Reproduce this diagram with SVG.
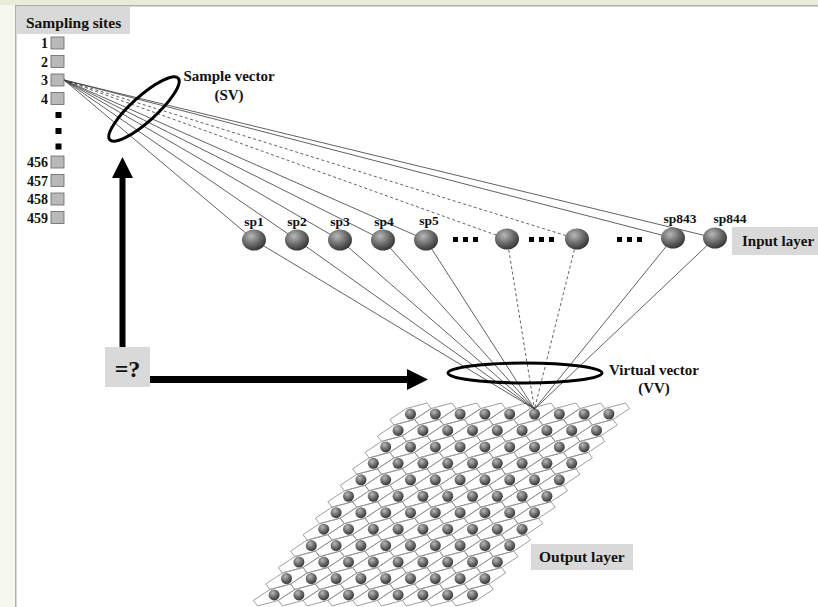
<svg xmlns="http://www.w3.org/2000/svg" xmlns:xlink="http://www.w3.org/1999/xlink" width="818" height="607" viewBox="0 0 818 607">
<style>
.lbl{font-family:"Liberation Serif","Times New Roman",serif;font-weight:bold;fill:#111}
.box{fill:#d9d9d9}
.ln{stroke:#3a3a3a;stroke-width:0.8;fill:none}
.dash{stroke-dasharray:3,2.5}
.hex{fill:none;stroke:#939393;stroke-width:0.9}
.site{fill:#b9b9b9;stroke:#666;stroke-width:0.8}
.ring{fill:none;stroke:#000;stroke-width:3}
</style>
<defs>
<radialGradient id="gball" cx="0.38" cy="0.32" r="0.7">
<stop offset="0" stop-color="#b8b8b8"/>
<stop offset="0.55" stop-color="#6c6c6c"/>
<stop offset="1" stop-color="#353535"/>
</radialGradient>
<polygon id="hex" class="hex" points="4.13,5.49 -16.54,10.97 -20.67,5.49 -4.13,-5.49 16.54,-10.97 20.67,-5.49"/>
<circle id="ball" r="5.5" fill="url(#gball)"/>
<g id="hexrow">
<use href="#hex" x="0"/><use href="#hex" x="24.8"/><use href="#hex" x="49.6"/><use href="#hex" x="74.4"/><use href="#hex" x="99.2"/><use href="#hex" x="124"/><use href="#hex" x="148.8"/><use href="#hex" x="173.6"/><use href="#hex" x="198.4"/>
</g>
<g id="ballrow">
<use href="#ball" x="0"/><use href="#ball" x="24.8"/><use href="#ball" x="49.6"/><use href="#ball" x="74.4"/><use href="#ball" x="99.2"/><use href="#ball" x="124"/><use href="#ball" x="148.8"/><use href="#ball" x="173.6"/><use href="#ball" x="198.4"/>
</g>
<ellipse id="inode" rx="12" ry="10.5" fill="url(#gball)"/>
</defs>

<rect x="0" y="0" width="818" height="607" fill="#f6f8f0"/>
<rect x="0" y="0" width="818" height="5" fill="#e8ecd8"/>
<rect x="15" y="5" width="803" height="602" fill="#ffffff"/>
<path d="M15.75,607 V5.75 H818" fill="none" stroke="#b0b0a6" stroke-width="1.5"/>

<g id="output-layer">
<g id="output-cells">
<use href="#hexrow" x="410.5" y="414"/>
<use href="#hexrow" x="398.1" y="430.45"/>
<use href="#hexrow" x="385.7" y="446.9"/>
<use href="#hexrow" x="373.3" y="463.35"/>
<use href="#hexrow" x="360.9" y="479.8"/>
<use href="#hexrow" x="348.5" y="496.25"/>
<use href="#hexrow" x="336.1" y="512.7"/>
<use href="#hexrow" x="323.7" y="529.15"/>
<use href="#hexrow" x="311.3" y="545.6"/>
<use href="#hexrow" x="298.9" y="562.05"/>
<use href="#hexrow" x="286.5" y="578.5"/>
<use href="#hexrow" x="274.1" y="594.95"/>
</g>
<g id="output-units">
<use href="#ballrow" x="410.5" y="414"/>
<use href="#ballrow" x="398.1" y="430.45"/>
<use href="#ballrow" x="385.7" y="446.9"/>
<use href="#ballrow" x="373.3" y="463.35"/>
<use href="#ballrow" x="360.9" y="479.8"/>
<use href="#ballrow" x="348.5" y="496.25"/>
<use href="#ballrow" x="336.1" y="512.7"/>
<use href="#ballrow" x="323.7" y="529.15"/>
<use href="#ballrow" x="311.3" y="545.6"/>
<use href="#ballrow" x="298.9" y="562.05"/>
<use href="#ballrow" x="286.5" y="578.5"/>
<use href="#ballrow" x="274.1" y="594.95"/>
</g>
</g>

<g id="connectors">
<line class="ln" x1="64" y1="80" x2="254" y2="240"/>
<line class="ln" x1="64" y1="80" x2="297" y2="240"/>
<line class="ln" x1="64" y1="80" x2="340" y2="240"/>
<line class="ln" x1="64" y1="80" x2="383" y2="240"/>
<line class="ln" x1="64" y1="80" x2="426" y2="240"/>
<line class="ln dash" x1="64" y1="80" x2="507" y2="239"/>
<line class="ln dash" x1="64" y1="80" x2="577" y2="239"/>
<line class="ln" x1="64" y1="80" x2="673" y2="238"/>
<line class="ln" x1="64" y1="80" x2="715" y2="238"/>
<line class="ln" x1="254" y1="240" x2="534.5" y2="409"/>
<line class="ln" x1="297" y1="240" x2="534.5" y2="409"/>
<line class="ln" x1="340" y1="240" x2="534.5" y2="409"/>
<line class="ln" x1="383" y1="240" x2="534.5" y2="409"/>
<line class="ln" x1="426" y1="240" x2="534.5" y2="409"/>
<line class="ln dash" x1="507" y1="239" x2="534.5" y2="409"/>
<line class="ln dash" x1="577" y1="239" x2="534.5" y2="409"/>
<line class="ln" x1="673" y1="238" x2="534.5" y2="409"/>
<line class="ln" x1="715" y1="238" x2="534.5" y2="409"/>
<g id="arrow-up">
<rect x="119.5" y="176" width="6" height="171" fill="#000"/>
<polygon points="112,178 133,178 122.5,157" fill="#000"/>
</g>
<g id="arrow-right">
<rect x="150" y="376" width="259" height="7" fill="#000"/>
<polygon points="407,369 407,390 428,379.5" fill="#000"/>
</g>
</g>

<g id="sample-vector">
<ellipse class="ring" cx="144" cy="109" rx="46" ry="12.5" transform="rotate(-42 144 109)"/>
<text class="lbl" x="229" y="81" font-size="15" text-anchor="middle">Sample vector</text>
<text class="lbl" x="229" y="100" font-size="15" text-anchor="middle">(SV)</text>
</g>

<g id="virtual-vector">
<ellipse class="ring" cx="525" cy="373" rx="77" ry="10"/>
<text class="lbl" x="654" y="375" font-size="15" text-anchor="middle">Virtual vector</text>
<text class="lbl" x="654" y="393" font-size="15" text-anchor="middle">(VV)</text>
</g>

<g id="sampling-sites">
<rect class="box" x="16" y="7" width="114" height="27"/>
<text class="lbl" x="26" y="28" font-size="15.5">Sampling sites</text>
<g class="lbl" font-size="14" text-anchor="end">
<text x="48" y="48">1</text>
<text x="48" y="66.5">2</text>
<text x="48" y="85">3</text>
<text x="48" y="103.5">4</text>
<text x="48" y="167">456</text>
<text x="48" y="185.5">457</text>
<text x="48" y="204">458</text>
<text x="48" y="222.5">459</text>
</g>
<rect class="site" x="51" y="37" width="13" height="12"/>
<rect class="site" x="51" y="55.5" width="13" height="12"/>
<rect class="site" x="51" y="74" width="13" height="12"/>
<rect class="site" x="51" y="92.5" width="13" height="12"/>
<rect x="55.5" y="112" width="6" height="6" fill="#000"/>
<rect x="55.5" y="128" width="6" height="6" fill="#000"/>
<rect x="55.5" y="143.5" width="6" height="6" fill="#000"/>
<rect class="site" x="51" y="156" width="13" height="12"/>
<rect class="site" x="51" y="174.5" width="13" height="12"/>
<rect class="site" x="51" y="193" width="13" height="12"/>
<rect class="site" x="51" y="211.5" width="13" height="12"/>
</g>

<g id="input-layer">
<g id="sp1"><use href="#inode" x="254" y="240"/><text class="lbl" x="254" y="226" font-size="13.5" text-anchor="middle">sp1</text></g>
<g id="sp2"><use href="#inode" x="297" y="240"/><text class="lbl" x="297" y="226" font-size="13.5" text-anchor="middle">sp2</text></g>
<g id="sp3"><use href="#inode" x="340" y="240"/><text class="lbl" x="340" y="226" font-size="13.5" text-anchor="middle">sp3</text></g>
<g id="sp4"><use href="#inode" x="383" y="240"/><text class="lbl" x="384" y="226" font-size="13.5" text-anchor="middle">sp4</text></g>
<g id="sp5"><use href="#inode" x="426" y="240"/><text class="lbl" x="429" y="225" font-size="13.5" text-anchor="middle">sp5</text></g>
<g id="dots1"><rect x="453" y="237" width="5" height="5"/><rect x="463" y="237" width="5" height="5"/><rect x="473" y="237" width="5" height="5"/></g>
<g id="node6"><use href="#inode" x="507" y="239"/></g>
<g id="dots2"><rect x="529" y="237" width="5" height="5"/><rect x="539" y="237" width="5" height="5"/><rect x="549" y="237" width="5" height="5"/></g>
<g id="node7"><use href="#inode" x="577" y="239"/></g>
<g id="dots3"><rect x="617" y="237" width="5" height="5"/><rect x="627" y="237" width="5" height="5"/><rect x="637" y="237" width="5" height="5"/></g>
<g id="sp843"><use href="#inode" x="673" y="238"/><text class="lbl" x="680" y="223" font-size="13.5" text-anchor="middle">sp843</text></g>
<g id="sp844"><use href="#inode" x="715" y="238"/><text class="lbl" x="730" y="223" font-size="13.5" text-anchor="middle">sp844</text></g>
<g id="input-label"><rect class="box" x="732" y="227" width="86" height="28"/><text class="lbl" x="742" y="246" font-size="15">Input layer</text></g>
</g>

<g id="compare">
<rect class="box" x="105" y="347" width="45" height="40"/>
<text class="lbl" x="127.5" y="377" font-size="24" text-anchor="middle">=?</text>
</g>

<g id="output-label">
<rect class="box" x="531" y="544" width="102" height="26"/>
<text class="lbl" x="539" y="562" font-size="15.5">Output layer</text>
</g>
</svg>
